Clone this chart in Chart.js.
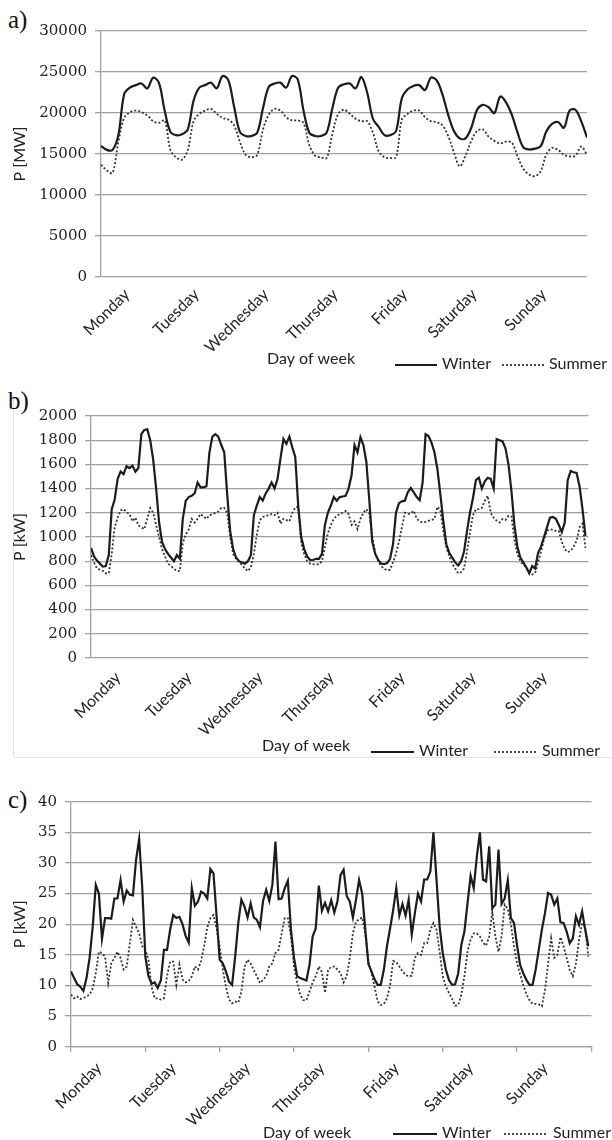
<!DOCTYPE html>
<html>
<head>
<meta charset="utf-8">
<script src="https://cdn.jsdelivr.net/npm/chart.js@4.4.0/dist/chart.umd.min.js"></script>
<style>
    body { margin: 0; width: 612px; height: 1140px; overflow: hidden; background: #fff; position: relative; }
    .panel { position: absolute; left: 0; width: 612px; }
    .tag { position: absolute; left: 8px; font-family: 'Liberation Serif'; font-size: 25px; line-height: 1; color: #111; }
    .frame { position: absolute; left: 13px; top: 395px; width: 599px; height: 362px; border-left: 1px solid #e4e4e4; border-bottom: 1px solid #e4e4e4; }
</style>
</head>
<body>
<div class="frame"></div>
<div class="tag" style="top:7px">a)</div>
<div class="tag" style="top:388px">b)</div>
<div class="tag" style="top:787px">c)</div>
<div class="panel" style="top:0px;height:372px"><canvas id="chartA"></canvas></div>
<div class="panel" style="top:380px;height:385px"><canvas id="chartB"></canvas></div>
<div class="panel" style="top:770px;height:370px"><canvas id="chartC"></canvas></div>
<script>
const days = ['Monday', 'Tuesday', 'Wednesday', 'Thursday', 'Friday', 'Saturday', 'Sunday'];
const dayStarts = [0, 24, 48, 72, 96, 120, 144, 168];
const seriesNames = ['Winter', 'Summer'];

// a) P [MW], one reading every 2 hours, Monday 0h .. Sunday 24h
const winterA = [16000, 15500, 15500, 17300, 22300, 23100, 23400, 23600, 23000, 24300, 23700, 20300,
    17700, 17300, 17400, 18000, 21500, 23100, 23400, 23700, 23000, 24500, 24000, 20800,
    17700, 17200, 17200, 17600, 20600, 23200, 23600, 23700, 23100, 24500, 24100, 20300,
    17600, 17200, 17200, 17600, 20600, 23100, 23500, 23600, 23000, 24400, 22500, 19300,
    18300, 17300, 17300, 17800, 21800, 22900, 23300, 23400, 22800, 24300, 24000, 22300,
    19800, 17800, 16900, 16900, 18200, 20400, 21000, 20700, 20000, 22000, 21300, 19800,
    17600, 15800, 15550, 15650, 15950, 17800, 18700, 18900, 18200, 20300, 20400, 19000, 17000];
const summerA = [13700, 13000, 12700, 16500, 19400, 20100, 20300, 20100, 19700, 19000, 18800, 19100,
    15500, 14600, 14300, 15500, 19000, 19900, 20300, 20500, 19900, 19400, 19200, 18500,
    16500, 14900, 14600, 14900, 18000, 19800, 20500, 20300, 19500, 19100, 19100, 18800,
    16100, 14800, 14600, 14500, 17500, 19900, 20400, 19900, 19300, 19000, 19000, 17600,
    15300, 14600, 14500, 14600, 19200, 19900, 20300, 20300, 19500, 19000, 18900, 18500,
    17200, 15200, 13500, 14800, 16600, 17800, 18000, 17100, 16600, 16300, 16500, 16400,
    14700, 13200, 12500, 12300, 12900, 15000, 15750, 15500, 14900, 14700, 14800, 15900, 14900];
const yTicksA = [0, 5000, 10000, 15000, 20000, 25000, 30000];

// b) P [kW], hourly
const winterB = [910, 840, 805, 780, 755, 760, 850, 1230, 1310, 1480, 1540, 1520, 1585, 1570, 1590, 1540, 1570, 1850, 1885, 1890, 1800, 1640, 1400, 1120,
    960, 900, 860, 830, 800, 850, 820, 1150, 1300, 1330, 1340, 1360, 1450, 1410, 1410, 1420, 1700, 1830, 1850, 1830, 1760, 1700, 1350, 1050,
    900, 830, 800, 790, 780, 800, 850, 1180, 1260, 1330, 1300, 1360, 1400, 1450, 1400, 1480, 1650, 1810, 1770, 1830, 1740, 1660, 1250, 1000,
    900, 840, 810, 810, 820, 820, 860, 1100, 1200, 1260, 1330, 1300, 1330, 1335, 1340, 1400, 1510, 1760, 1700, 1825, 1760, 1620, 1300, 960,
    860, 810, 780, 775, 785, 820, 940, 1200, 1280, 1295, 1300, 1370, 1405, 1370, 1330, 1305, 1450, 1850, 1835, 1780, 1700, 1560, 1350, 1130,
    940, 870, 830, 790, 765, 800, 880, 1050, 1200, 1320, 1470, 1490, 1400, 1460, 1490, 1480, 1400, 1810, 1800, 1790, 1730, 1600, 1380, 1100,
    920, 830, 790, 750, 700, 760, 740, 870, 920, 1000, 1080, 1160, 1165, 1150, 1100, 1040, 1120, 1470, 1545, 1535, 1530, 1420, 1230, 1010];
const summerB = [850, 790, 740, 730, 720, 700, 700, 860, 1080, 1160, 1220, 1230, 1205, 1190, 1130, 1160, 1095, 1080, 1065, 1150, 1240, 1200, 1100, 1000,
    900, 840, 780, 760, 737, 720, 718, 950, 1020, 1060, 1150, 1120, 1150, 1190, 1170, 1150, 1180, 1190, 1200, 1210, 1240, 1240, 1200, 1000,
    860, 820, 795, 768, 740, 718, 750, 860, 1020, 1140, 1165, 1175, 1180, 1190, 1180, 1200, 1110, 1150, 1140, 1130, 1200, 1245, 1250, 950,
    860, 800, 780, 775, 773, 775, 800, 920, 1030, 1100, 1150, 1175, 1190, 1200, 1215, 1190, 1100, 1130, 1065, 1150, 1200, 1230, 1195, 1000,
    870, 800, 760, 737, 725, 730, 790, 860, 960, 1080, 1200, 1190, 1195, 1216, 1150, 1130, 1120, 1125, 1134, 1140, 1150, 1250, 1220, 1050,
    920, 840, 780, 740, 700, 710, 740, 880, 1040, 1180, 1230, 1230, 1240, 1300, 1340, 1200, 1160, 1135, 1120, 1148, 1140, 1175, 1170, 980,
    860, 800, 770, 750, 710, 690, 700, 790, 880, 980, 1050, 1065, 1060, 1050, 1050, 960, 900, 875, 885, 920, 970, 1080, 1110, 910];
const yTicksB = [0, 200, 400, 600, 800, 1000, 1200, 1400, 1600, 1800, 2000];

// c) P [kW], hourly
const winterC = [12.3, 11.2, 10.2, 9.8, 9.1, 11.2, 14.5, 19.5, 26.4, 25, 17.6, 21, 21, 20.9, 24.2, 24.2, 27.2, 23.7, 25.5, 24.8, 24.7, 30.5, 33.9, 26,
    14.7, 11.5, 10.3, 10.5, 9.6, 10.8, 15.8, 15.8, 19.1, 21.5, 21, 21.2, 20, 18.1, 17, 25.9, 23, 23.7, 25.3, 25, 24.2, 29, 28.3, 21.3,
    14.2, 13.6, 12.3, 10.6, 10.1, 14.7, 20.2, 24, 22.9, 21.1, 23.4, 21.1, 20.7, 19.5, 23.8, 25.6, 23.8, 26.4, 33.5, 24.1, 24.2, 25.9, 27.1, 19.1,
    14.5, 11.5, 11.2, 11, 10.8, 13.4, 18, 19.3, 26.3, 22.2, 23.5, 22.1, 23.9, 21.9, 23.7, 28, 28.9, 24.6, 23.7, 21.1, 24, 27.2, 25, 19.1,
    13.5, 12.3, 11, 10.1, 10.1, 12.6, 16.4, 19.3, 22.3, 25.9, 21.4, 23.3, 21.4, 24, 18.3, 21.8, 25, 23.7, 27.3, 27.3, 28.6, 35, 27.2, 19.6,
    15.3, 12.6, 10.9, 10.1, 10.2, 12, 16.6, 18.8, 23.4, 27.9, 25.9, 31, 35, 27.3, 27, 32.7, 22.6, 23.2, 32.2, 23.3, 24.2, 27.2, 21, 20.2,
    16.5, 13.3, 12, 10.9, 10.1, 10.1, 12.6, 15.8, 19.1, 21.8, 25.1, 24.8, 23.2, 24.2, 20.3, 20.2, 18.8, 16.9, 17.7, 21.3, 19.9, 22.1, 19.1, 16.4];
const summerC = [8.5, 7.9, 8.2, 7.8, 7.9, 8.2, 8.5, 9.5, 12, 15.5, 15.3, 14.7, 10.4, 13.6, 14.5, 15.5, 14.5, 12.6, 13.1, 16.9, 20.7, 19.6, 18.5, 16.4,
    15.8, 14.2, 9.8, 7.9, 7.9, 7.7, 7.9, 11.5, 13.9, 13.9, 10.1, 13.4, 11, 10.5, 10.7, 11.5, 13.1, 12.6, 14, 16.5, 19.5, 21, 21.5, 19.3,
    16.4, 12.6, 9.8, 7.7, 7.1, 7.4, 7.2, 9, 13, 14.2, 13.6, 12.5, 11.5, 10.4, 10.9, 11.5, 13.1, 13.6, 15.3, 15.8, 18.5, 21, 21, 18,
    13, 10.5, 8.5, 7.6, 7.6, 9, 10.5, 11.5, 13.1, 12.2, 8.8, 12.6, 13, 13.1, 12.6, 12, 10.5, 11.5, 14.5, 18.5, 20.4, 20.8, 21.1, 18.5,
    13.9, 12, 9.8, 7.4, 6.8, 7, 7.9, 10, 14, 13.8, 13.1, 12.3, 11.7, 11.5, 11.6, 14.5, 15.3, 15, 16.9, 16.9, 19.1, 20.2, 19.1, 15.5,
    11.5, 9.8, 8.8, 7.8, 6.7, 6.8, 8.5, 11.5, 15.5, 17.5, 18.5, 18.5, 18, 17, 16.5, 18, 22, 18, 15.5, 18, 23.2, 22.5, 20, 16.4,
    13.6, 11.8, 10, 8.6, 7.6, 7, 7, 6.9, 6.6, 9.2, 13.5, 17.7, 14.5, 15, 17.9, 16.4, 14.5, 12.5, 11.5, 13.6, 17.4, 20.2, 19.6, 14.7];
const yTicksC = [0, 5, 10, 15, 20, 25, 30, 35, 40];

const gridColor = '#a0a0a0';
const inkColor = '#1c1c1c';
const textColor = '#222222';

function toPoints(values, step) {
    return values.map(function (v, i) { return { x: i * step, y: v }; });
}

// "Day of week" caption and the legend row drawn on the same line
const captionPlugin = {
    id: 'caption',
    afterDraw: function (chart, args, opts) {
        const ctx = chart.ctx;
        ctx.save();
        ctx.font = '16px Lato';
        ctx.fillStyle = textColor;
        ctx.textBaseline = 'middle';
        ctx.textAlign = 'center';
        ctx.fillText('Day of week', opts.titleX, opts.titleY);
        ctx.textAlign = 'left';
        chart.data.datasets.forEach(function (ds, i) {
            const x = opts.legendX[i];
            ctx.strokeStyle = ds.borderColor;
            ctx.lineWidth = ds.borderWidth;
            ctx.setLineDash(ds.borderDash || []);
            ctx.beginPath();
            ctx.moveTo(x, opts.legendY + 1);
            ctx.lineTo(x + opts.sample, opts.legendY + 1);
            ctx.stroke();
            ctx.setLineDash([]);
            ctx.fillText(ds.label, x + opts.sample + 5, opts.legendY);
        });
        ctx.restore();
    }
};

function createChart(id, panel) {
    return new Chart(document.getElementById(id), {
        type: 'line',
        data: {
            datasets: [{
                label: seriesNames[0],
                data: toPoints(panel.winter, panel.step),
                borderColor: inkColor,
                borderWidth: 2.2,
                tension: panel.tension,
                pointRadius: 0
            }, {
                label: seriesNames[1],
                data: toPoints(panel.summer, panel.step),
                borderColor: '#333333',
                borderWidth: 1.8,
                borderDash: [2, 2],
                tension: panel.tension,
                pointRadius: 0
            }]
        },
        options: {
            responsive: true,
            maintainAspectRatio: false,
            animation: false,
            events: [],
            layout: {
                padding: { top: panel.plotTop, right: 612 - panel.right, left: 0, bottom: 0 }
            },
            scales: {
                x: {
                    type: 'linear',
                    min: 0,
                    max: 168,
                    afterBuildTicks: function (scale) {
                        scale.ticks = dayStarts.map(function (v) { return { value: v }; });
                    },
                    afterFit: function (scale) { scale.height = panel.xAxisH; },
                    grid: {
                        display: panel.tickMarks,
                        drawOnChartArea: false,
                        drawTicks: panel.tickMarks,
                        tickLength: 5,
                        color: gridColor,
                        lineWidth: 1.3
                    },
                    border: { display: panel.tickMarks, color: gridColor, width: 1.3 },
                    ticks: {
                        autoSkip: false,
                        minRotation: 45,
                        maxRotation: 45,
                        labelOffset: panel.labelOffset,
                        padding: panel.labelPad,
                        color: textColor,
                        font: { family: 'Lato', size: 16 },
                        callback: function (v) { return days[v / 24] || ''; }
                    }
                },
                y: {
                    min: 0,
                    max: panel.yTicks[panel.yTicks.length - 1],
                    afterBuildTicks: function (scale) {
                        scale.ticks = panel.yTicks.map(function (v) { return { value: v }; });
                    },
                    afterFit: function (scale) { scale.width = panel.left; },
                    grid: { color: gridColor, lineWidth: 1.3, drawTicks: true, tickLength: 6 },
                    border: { display: true, color: gridColor, width: 1.3 },
                    ticks: {
                        padding: 8,
                        color: textColor,
                        font: { family: 'DejaVu Serif', size: 15 },
                        callback: function (v) { return String(v); }
                    },
                    title: {
                        display: true,
                        text: panel.yTitle,
                        color: textColor,
                        font: { family: 'Lato', size: 16 },
                        padding: { top: 10, bottom: 0 }
                    }
                }
            },
            plugins: {
                legend: { display: false },
                tooltip: { enabled: false },
                caption: panel.caption
            }
        },
        plugins: [captionPlugin]
    });
}

createChart('chartA', {
    winter: winterA, summer: summerA, step: 2, tension: 0.35, yTicks: yTicksA, yTitle: 'P [MW]',
    left: 101, right: 587, plotTop: 31, xAxisH: 95, tickMarks: false, labelOffset: 26, labelPad: 8,
    caption: { titleX: 311, titleY: 359, legendY: 364, legendX: [395, 502], sample: 42 }
});
createChart('chartB', {
    winter: winterB, summer: summerB, step: 1, tension: 0, yTicks: yTicksB, yTitle: 'P [kW]',
    left: 91, right: 600, plotTop: 36, xAxisH: 107, tickMarks: false, labelOffset: 27, labelPad: 10,
    caption: { titleX: 306, titleY: 366, legendY: 371, legendX: [371, 494], sample: 43 }
});
createChart('chartC', {
    winter: winterC, summer: summerC, step: 1, tension: 0, yTicks: yTicksC, yTitle: 'P [kW]',
    left: 71, right: 597, plotTop: 31.7, xAxisH: 93.3, tickMarks: true, labelOffset: 28, labelPad: 7,
    caption: { titleX: 307, titleY: 363, legendY: 363, legendX: [393, 504], sample: 44 }
});
</script>
</body>
</html>
